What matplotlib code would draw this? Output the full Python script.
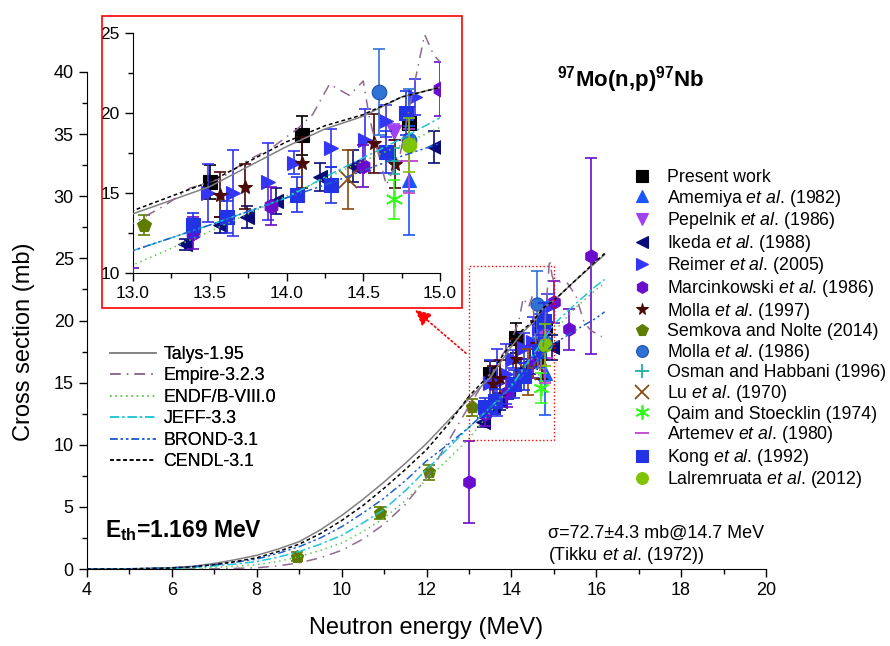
import matplotlib
matplotlib.use("Agg")
from matplotlib import pyplot as plt
from matplotlib.lines import Line2D
from matplotlib.patches import Rectangle, FancyArrowPatch
from matplotlib.ticker import MultipleLocator

plt.rcParams['font.family'] = ['Liberation Sans', 'DejaVu Sans']
plt.rcParams['mathtext.fontset'] = 'custom'
plt.rcParams['mathtext.rm'] = 'Liberation Sans'
plt.rcParams['mathtext.it'] = 'Liberation Sans:italic'
plt.rcParams['mathtext.bf'] = 'Liberation Sans:bold'

# evaluated excitation functions (MeV, mb)
e_grid = [4, 5, 6, 6.5, 7, 7.5, 8, 8.5, 9, 9.5, 10, 10.5, 11, 11.5, 12, 12.5, 13, 13.5, 14, 14.25,
          14.5, 14.75, 15, 15.5, 16, 16.2]
talys = [0, 0.01, 0.1, 0.22, 0.45, 0.75, 1.1, 1.6, 2.2, 3.15, 4.3, 5.6, 7.0, 8.5, 10.1, 11.9, 13.7, 15.4,
         17.9, 19.0, 19.8, 21.0, 21.6, 23.2, 24.7, 25.3]
cendl = [0, 0.01, 0.08, 0.18, 0.35, 0.6, 0.9, 1.4, 2.0, 2.85, 3.9, 5.1, 6.5, 8.0, 9.6, 11.6, 13.9, 15.7,
         18.2, 19.2, 19.9, 21.0, 21.6, 23.2, 24.8, 25.4]
brond = [0, 0.02, 0.1, 0.2, 0.35, 0.55, 0.8, 1.25, 1.8, 2.5, 3.4, 4.5, 5.7, 7.1, 8.7, 10.0, 11.4, 13.0,
         14.7, 15.5, 16.4, 17.3, 18.1, 19.2, 20.2, 20.7]
jeff = [0, 0.01, 0.05, 0.13, 0.25, 0.4, 0.6, 0.95, 1.4, 2.0, 2.7, 3.7, 4.8, 6.3, 8.0, 9.7, 11.4, 13.0,
        14.7, 16.0, 17.2, 18.4, 19.7, 21.3, 22.8, 23.3]
endf = [0, 0, 0.02, 0.06, 0.12, 0.22, 0.35, 0.6, 1.0, 1.5, 2.1, 3.0, 4.1, 5.5, 7.2, 8.8, 10.5, 12.6,
        14.8, 15.9, 17.0, 18.0, 19.1, 21.0, 22.5, 23.0]

empire_e = [4, 6, 7, 7.5, 8, 8.5, 9, 9.5, 10, 10.5, 11, 11.5, 12, 12.5, 13, 13.22, 13.37, 13.57, 13.74,
            13.9, 14.07, 14.17, 14.28, 14.41, 14.5, 14.54, 14.6, 14.65, 14.74, 14.8, 14.9, 14.96, 15.0,
            15.32, 15.52, 15.71, 15.87, 16.13]
empire = [0, 0, 0.02, 0.05, 0.1, 0.25, 0.5, 0.9, 1.5, 2.4, 3.6, 5.2, 7.3, 10.2, 13.1, 14.3, 15.3, 15.9,
          17.0, 17.8, 19.0, 19.9, 21.8, 21.1, 22.0, 19.7, 17.4, 15.5, 17.4, 20.3, 24.9, 23.6, 23.2,
          23.0, 22.0, 19.9, 19.2, 18.7]

# measured data: energy, cross section, uncertainty
present_x = [13.5, 14.1, 14.8]
present_y = [15.7, 18.6, 19.4]
present_err = [1.05, 1.2, 1.0]

amemiya_x = [14.8]
amemiya_y = [15.8]
amemiya_err = [3.4]

pepelnik_x = [14.7]
pepelnik_y = [18.8]
pepelnik_err = [0.5]

ikeda_x = [13.34, 13.57, 13.74, 13.93, 14.22, 14.43, 14.96]
ikeda_y = [11.8, 13.0, 13.5, 14.5, 16.0, 16.7, 17.85]
ikeda_err = [0.35, 0.5, 0.7, 0.8, 0.9, 1.0, 1.0]

reimer_x = [13.49, 13.65, 13.88, 14.05, 14.29, 14.51, 14.65, 14.84]
reimer_y = [15.0, 15.0, 15.7, 16.9, 17.8, 18.3, 19.5, 21.0]
reimer_err = [1.8, 2.7, 2.4, 0.7, 1.2, 1.95, 1.0, 1.15]

marcin_x = [13.0, 13.39, 13.9, 14.5, 15.0, 15.36, 15.87]
marcin_y = [7.0, 12.5, 14.2, 16.7, 21.5, 19.3, 25.2]
marcin_err = [3.3, 1.0, 1.2, 1.3, 1.7, 1.65, 7.9]

molla97_x = [13.57, 13.73, 14.1, 14.57, 14.71]
molla97_y = [14.9, 15.4, 16.9, 18.1, 16.8]
molla97_err = [1.4, 1.4, 1.6, 1.85, 1.5]

semkova_x = [8.95, 10.9, 12.05, 13.07]
semkova_y = [1.0, 4.5, 7.8, 13.0]
semkova_err = [0.35, 0.45, 0.6, 0.65]

molla86_x = [14.6, 14.8]
molla86_y = [21.3, 18.3]
molla86_err = [2.7, 3.2]

osman_x = [14.7]
osman_y = [17.0]
osman_err = [0.8]

lu_x = [14.4]
lu_y = [15.85]
lu_err = [1.85]

qaim_x = [14.7]
qaim_y = [14.6]
qaim_err = [1.2]

artemev_x = [14.8]
artemev_y = [17.0]
artemev_err = [2.0]

kong_x = [13.39, 13.61, 14.07, 14.29, 14.65, 14.78]
kong_y = [13.0, 13.5, 14.9, 15.5, 17.55, 20.0]
kong_err = [0.75, 1.0, 1.1, 1.1, 1.3, 1.4]

lalrem_x = [14.8]
lalrem_y = [18.0]
lalrem_err = [1.7]

IT = r'$\it{et\ al}$.'
datasets = [
    ("Present work", present_x, present_y, present_err, 's', 'black'),
    ("Amemiya " + IT + " (1982)", amemiya_x, amemiya_y, amemiya_err, '^', '#1a56ff'),
    ("Pepelnik " + IT + " (1986)", pepelnik_x, pepelnik_y, pepelnik_err, 'v', '#a040f0'),
    ("Ikeda " + IT + " (1988)", ikeda_x, ikeda_y, ikeda_err, '<', '#0a0a7a'),
    ("Reimer " + IT + " (2005)", reimer_x, reimer_y, reimer_err, '>', '#3535f5'),
    ("Marcinkowski " + IT + " (1986)", marcin_x, marcin_y, marcin_err, 'h', '#6a0ccc'),
    ("Molla " + IT + " (1997)", molla97_x, molla97_y, molla97_err, '*', '#4b0808'),
    ("Semkova and Nolte (2014)", semkova_x, semkova_y, semkova_err, 'p', '#5e7d00'),
    ("Molla " + IT + " (1986)", molla86_x, molla86_y, molla86_err, 'o', '#2f72d6'),
    ("Osman and Habbani (1996)", osman_x, osman_y, osman_err, '+', '#20b0a0'),
    ("Lu " + IT + " (1970)", lu_x, lu_y, lu_err, 'x', '#8b4a10'),
    ("Qaim and Stoecklin (1974)", qaim_x, qaim_y, qaim_err, (6, 2, 0), '#33ff1a'),
    ("Artemev " + IT + " (1980)", artemev_x, artemev_y, artemev_err, '_', '#c040d0'),
    ("Kong " + IT + " (1992)", kong_x, kong_y, kong_err, 's', '#2233e6'),
    ("Lalremruata " + IT + " (2012)", lalrem_x, lalrem_y, lalrem_err, 'o', '#7fc400'),
]

curves = [
    ("Talys-1.95", e_grid, talys, '#808080', '-'),
    ("Empire-3.2.3", empire_e, empire, '#8e6a8e', (0, (7, 4, 1, 4))),
    ("ENDF/B-VIII.0", e_grid, endf, '#5cc84a', (0, (1, 2.5))),
    ("JEFF-3.3", e_grid, jeff, '#22c4d8', (0, (6, 2, 1.5, 2))),
    ("BROND-3.1", e_grid, brond, '#2060d0', (0, (5, 2, 1.5, 2, 1.5, 2))),
    ("CENDL-3.1", e_grid, cendl, 'black', (0, (2.5, 1.8))),
]


def is_thin(mk):
    return mk in ('+', 'x', '_') or isinstance(mk, tuple)


def marker_kw(mk, col, ms):
    kw = dict(marker=mk, color=col, ms=ms * (1.2 if is_thin(mk) else 1),
              mew=1.3 if is_thin(mk) else 0.8)
    if col == '#2f72d6':
        kw['mec'] = '#1c50b0'
    return kw


def draw(ax, ms):
    lines = []
    for name, x, y, col, ls in curves:
        l, = ax.plot(x, y, color=col, ls=ls, lw=1.1, zorder=4, label=name)
        lines.append(l)
    for name, x, y, err, mk, col in datasets:
        ax.errorbar(x, y, yerr=err, fmt='none', ecolor=col, elinewidth=1.2, capsize=4,
                    capthick=1.2, zorder=3)
        ax.plot(x, y, ls='none', zorder=3, **marker_kw(mk, col, ms))
    return lines


def style(ax, size):
    for s in ('top', 'right'):
        ax.spines[s].set_visible(False)
    ax.tick_params(which='major', direction='out', length=6, width=1, labelsize=size)
    ax.tick_params(which='minor', direction='out', length=3.5, width=1)


fig = plt.figure(figsize=(8.9, 6.46), dpi=100)
ax = fig.add_axes([87 / 890, 77 / 646, 679 / 890, 497 / 646])
lines = draw(ax, 9.5)
ax.set_xlim(4, 20)
ax.set_ylim(0, 40)
ax.xaxis.set_major_locator(MultipleLocator(2))
ax.xaxis.set_minor_locator(MultipleLocator(1))
ax.yaxis.set_major_locator(MultipleLocator(5))
ax.yaxis.set_minor_locator(MultipleLocator(2.5))
style(ax, 13)
ax.set_xlabel("Neutron energy (MeV)", fontsize=17, labelpad=13)
ax.set_ylabel("Cross section (mb)", fontsize=17)
ax.yaxis.set_label_coords(-0.077, 0.457)

# zoom frame and arrow to the inset
ax.add_patch(Rectangle((13.0, 10.4), 2.0, 14.0, fill=False, ec='red', ls=':', lw=1.0, zorder=5))
fig.patches.append(FancyArrowPatch((468 / 890, 291 / 646), (413 / 890, 338 / 646),
                                   transform=fig.transFigure, arrowstyle='-|>', mutation_scale=24,
                                   color='red', ls=':', lw=1.2))

ax.text(15.07, 39.4, r'$^{\mathbf{97}}$Mo(n,p)$^{\mathbf{97}}$Nb', fontsize=16, fontweight='bold',
        ha='left', va='center')
ax.text(4.42, 3.1, r'E$_{\mathbf{th}}$=1.169 MeV', fontsize=16.5, fontweight='bold', ha='left', va='center')
ax.text(14.86, 2.9, "σ=72.7±4.3 mb@14.7 MeV", fontsize=13, ha='left', va='center')
ax.text(14.86, 1.1, "(Tikku " + IT + " (1972))", fontsize=13, ha='left', va='center')

leg1 = ax.legend(handles=lines, loc='upper left', bbox_to_anchor=(110 / 890, 300 / 646),
                 bbox_transform=fig.transFigure, frameon=False, fontsize=12.8,
                 handlelength=2.6, handletextpad=0.4, labelspacing=0.25, borderpad=0, borderaxespad=0)
ax.add_artist(leg1)

handles = [Line2D([], [], ls='none', **marker_kw(mk, col, 8.5)) for name, x, y, err, mk, col in datasets]
fig.legend(handles, [d[0] for d in datasets], loc='upper left', bbox_to_anchor=(633 / 890, 477 / 646),
           frameon=False, fontsize=12.8, handlelength=1.0, handletextpad=0.9, labelspacing=0.09,
           borderpad=0, borderaxespad=0)

# inset
fig.patches.append(Rectangle((102 / 890, 338 / 646), 360 / 890, 292 / 646, transform=fig.transFigure,
                             fill=False, ec='red', lw=1.2, zorder=10))
axi = fig.add_axes([133 / 890, 373 / 646, 307 / 890, 240 / 646])
draw(axi, 10.5)
axi.set_xlim(13, 15)
axi.set_ylim(10, 25)
axi.xaxis.set_major_locator(MultipleLocator(0.5))
axi.xaxis.set_minor_locator(MultipleLocator(0.25))
axi.yaxis.set_major_locator(MultipleLocator(5))
axi.yaxis.set_minor_locator(MultipleLocator(2.5))
axi.xaxis.set_major_formatter('{x:.1f}')
style(axi, 12.5)

fig.savefig("out.png", dpi=100)
